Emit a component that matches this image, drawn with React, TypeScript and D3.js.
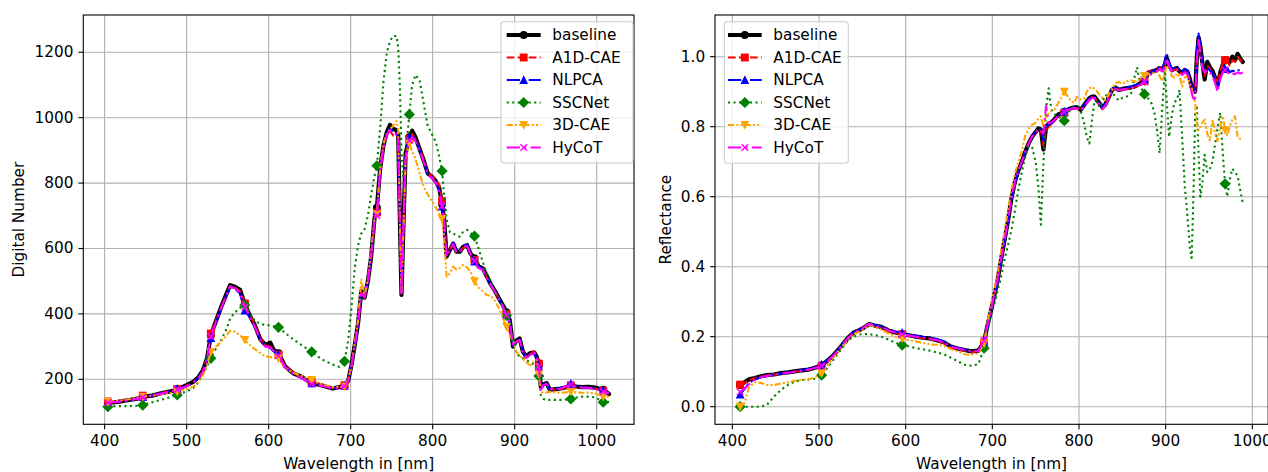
import React from 'react';
import * as d3 from 'd3';

// ---------------- DATA ----------------
// Left panel: Digital Number vs wavelength
const LEFT_NM = [
  404, 416, 428, 440, 446.5, 458, 470, 480, 488.5, 500,
  508, 514, 520, 525, 529.5, 536, 542, 548, 553, 559,
  565, 571, 577, 583, 590, 596, 602, 606, 612, 620,
  630, 640, 652.5, 664, 678, 686, 692.5, 697, 701, 705,
  709, 713, 717, 721, 725, 729, 732, 736, 740, 744,
  748, 752, 756, 758, 760, 762, 764, 767, 771.5, 775,
  779, 784, 789, 794, 799, 804, 808, 811.5, 814, 817,
  821, 825, 829, 833, 837, 842, 846, 851, 856, 861,
  866, 871, 876, 882, 886, 890, 894, 898, 902, 906,
  910, 914, 919, 924, 927, 929.5, 932, 935, 939, 943,
  950, 956, 962, 968.5, 975, 982, 990, 998, 1008, 1015,
];
const LEFT_BASELINE = [
  128, 131, 136, 141, 147, 150, 158, 163, 169, 182,
  192, 205, 228, 265, 335, 380, 420, 458, 488, 483,
  474, 430, 395, 366, 322, 305, 312, 290, 280, 240,
  218, 208, 188, 182, 172, 176, 180, 195, 244, 305,
  370, 470, 450, 500, 575, 690, 725, 845, 915, 955,
  978, 965, 962, 945, 690, 458, 640, 890, 940, 960,
  940, 905, 870, 830, 820, 805, 785, 735, 690, 575,
  595, 615, 590, 590, 605, 610, 585, 570, 545, 540,
  515, 490, 470, 442, 425, 405, 381, 300, 318, 325,
  285, 270, 280, 282, 268, 245, 175, 185, 188, 168,
  170, 172, 175, 182, 178, 176, 177, 175, 168, 155,
];
const LEFT_A1D = [
  132, 133, 138, 143, 150, 151, 159, 164, 170, 181,
  191, 204, 226, 268, 340, 382, 418, 456, 485, 480,
  470, 432, 398, 368, 325, 303, 300, 288, 275, 242,
  220, 206, 192, 184, 174, 176, 182, 196, 242, 302,
  368, 465, 452, 498, 572, 680, 710, 840, 910, 948,
  960, 945, 948, 935, 685, 462, 645, 885, 935, 950,
  935, 905, 872, 835, 822, 810, 795, 745, 695, 580,
  600, 612, 588, 592, 602, 608, 582, 565, 542, 538,
  512, 488, 468, 440, 422, 400, 378, 305, 315, 322,
  288, 268, 278, 285, 272, 248, 172, 183, 185, 170,
  168, 170, 174, 180, 176, 174, 175, 172, 165, 158,
];
const LEFT_NLPCA = [
  130, 132, 137, 142, 146, 151, 158, 164, 171, 180,
  190, 203, 225, 262, 326, 376, 416, 455, 482, 478,
  462, 410, 390, 362, 320, 302, 296, 286, 274, 238,
  216, 205, 188, 181, 174, 175, 180, 196, 244, 303,
  366, 460, 448, 500, 574, 688, 715, 842, 912, 950,
  970, 958, 955, 938, 688, 462, 642, 888, 940, 948,
  932, 902, 868, 828, 818, 802, 778, 728, 688, 578,
  598, 618, 592, 594, 608, 612, 588, 560, 545, 538,
  512, 490, 470, 440, 422, 398, 378, 302, 318, 322,
  284, 266, 276, 280, 266, 240, 170, 185, 186, 168,
  172, 174, 178, 186, 180, 176, 174, 172, 166, 156,
];
const LEFT_SSCNET = [
  116, 118, 118, 119, 121, 130, 138, 146, 152, 163,
  173, 190, 215, 240, 264, 295, 320, 350, 385, 405,
  418, 427, 405, 378, 370, 366, 365, 362, 359, 342,
  322, 305, 284, 262, 245, 238, 255, 320, 420, 540,
  610, 646, 660, 700, 765, 820, 853, 970, 1110, 1197,
  1235, 1250, 1250, 1215, 1095, 900, 820, 880, 1010, 1100,
  1131, 1115, 1044, 975, 950, 925, 880, 837, 760, 690,
  650, 646, 640, 636, 650, 657, 648, 638, 600, 560,
  524, 498, 470, 442, 420, 395, 372, 322, 280, 270,
  265, 259, 252, 244, 230, 210, 150, 140, 137, 137,
  137, 137, 138, 140, 144, 147, 147, 145, 130, 131,
];
const LEFT_3DCAE = [
  131, 134, 138, 143, 147, 150, 155, 158, 162, 170,
  177, 190, 213, 245, 284, 300, 315, 332, 348, 346,
  335, 320, 305, 292, 280, 270, 268, 266, 264, 234,
  220, 210, 198, 185, 176, 176, 178, 200, 240, 310,
  380, 505, 455, 505, 590, 690, 705, 845, 920, 950,
  965, 975, 990, 960, 680, 462, 630, 870, 921, 896,
  875, 830, 790, 765, 745, 725, 705, 690, 630, 514,
  524, 545, 536, 540, 550, 542, 530, 500, 480, 470,
  458, 455, 440, 412, 385, 361, 335, 318, 284, 272,
  264, 252, 243, 255, 259, 215, 165, 157, 160, 162,
  160, 159, 160, 162, 160, 159, 159, 157, 147, 147,
];
const LEFT_HYCOT = [
  128, 131, 135, 140, 145, 150, 157, 163, 168, 179,
  189, 202, 224, 265, 332, 378, 418, 455, 484, 478,
  465, 420, 392, 362, 318, 300, 298, 286, 272, 238,
  216, 204, 186, 180, 172, 174, 178, 194, 242, 302,
  365, 462, 450, 498, 574, 685, 700, 838, 908, 946,
  962, 952, 950, 935, 685, 460, 640, 880, 930, 940,
  928, 900, 866, 825, 815, 800, 775, 730, 685, 575,
  596, 614, 588, 590, 604, 608, 584, 562, 540, 535,
  510, 488, 468, 438, 420, 396, 376, 300, 316, 320,
  282, 265, 275, 280, 265, 238, 168, 182, 186, 170,
  170, 172, 178, 184, 178, 175, 174, 170, 162, 158,
];
const LEFT_MARK_NM = [404, 446.5, 488.5, 529.5, 571, 612, 652.5, 692.5, 732, 771.5, 811.5, 851, 890, 929.5, 968.5, 1008];

// Right panel: Reflectance vs wavelength
const RIGHT_NM = [
  409, 414, 419, 426, 433, 440, 448, 456, 464, 472,
  480, 488, 496, 503, 510, 516, 522, 528, 534, 540,
  546, 552, 558, 564, 572, 580, 588, 596, 604, 612,
  620, 628, 636, 644, 652, 660, 668, 676, 684, 690.5,
  694, 698, 702, 706, 710, 714, 718, 722, 726, 730,
  734, 738, 742, 746, 750, 753, 756, 759, 762, 765,
  768, 772, 776, 783, 786, 790, 794, 798, 802, 806,
  809, 812, 815, 818, 821, 824, 827, 830, 834, 838,
  842, 846, 850, 855, 860, 864, 867, 871, 875.5, 880,
  884, 887, 890, 893, 896, 899, 901, 904, 907, 910,
  913, 916, 919, 922, 925, 928, 930, 932, 934, 936,
  938, 940, 942, 945, 948, 951, 954, 957, 960, 963,
  966, 968.5, 971, 974, 977, 980, 983, 986, 989,
];
const RIGHT_BASELINE = [
  0.062, 0.07, 0.078, 0.082, 0.087, 0.09, 0.092, 0.096, 0.098, 0.101,
  0.104, 0.106, 0.112, 0.118, 0.132, 0.145, 0.162, 0.18, 0.198, 0.212,
  0.218, 0.226, 0.236, 0.232, 0.228, 0.218, 0.212, 0.208, 0.204, 0.2,
  0.197, 0.195, 0.19, 0.184, 0.172, 0.166, 0.162, 0.158, 0.16, 0.185,
  0.228, 0.27, 0.315, 0.36, 0.42, 0.475, 0.53, 0.595, 0.642, 0.675,
  0.7, 0.728, 0.753, 0.772, 0.785, 0.795, 0.792, 0.735, 0.8, 0.808,
  0.812, 0.822, 0.835, 0.842, 0.848, 0.852, 0.855, 0.855, 0.848, 0.862,
  0.872, 0.882, 0.886, 0.886, 0.875, 0.866, 0.855, 0.862, 0.882, 0.905,
  0.912, 0.905, 0.908, 0.91, 0.912, 0.915, 0.918, 0.925, 0.93, 0.955,
  0.958, 0.96, 0.962, 0.968, 0.962, 0.975, 0.998, 0.975, 0.962, 0.965,
  0.968, 0.958, 0.955, 0.962, 0.958, 0.935, 0.912, 0.905, 0.9, 1.0,
  1.055, 1.03, 0.99, 0.935, 0.985, 0.97, 0.96, 0.94, 0.92, 0.955,
  0.978, 0.99, 0.995, 0.985, 1.0, 0.99, 1.008, 0.995, 0.985,
];
const RIGHT_A1D = [
  0.063, 0.068, 0.076, 0.081, 0.086, 0.089, 0.092, 0.095, 0.098, 0.1,
  0.103, 0.106, 0.112, 0.117, 0.13, 0.144, 0.16, 0.178, 0.197, 0.211,
  0.218, 0.225, 0.235, 0.231, 0.226, 0.217, 0.211, 0.207, 0.203, 0.199,
  0.196, 0.194, 0.188, 0.182, 0.17, 0.164, 0.16, 0.156, 0.158, 0.183,
  0.225, 0.268, 0.313, 0.358, 0.418, 0.472, 0.528, 0.592, 0.64, 0.674,
  0.699, 0.727, 0.752, 0.77, 0.783, 0.792, 0.79, 0.745, 0.79, 0.8,
  0.806, 0.818, 0.83, 0.84, 0.846, 0.85, 0.853, 0.853, 0.848, 0.86,
  0.87, 0.88, 0.884, 0.884, 0.872, 0.862, 0.85, 0.86, 0.88, 0.902,
  0.91, 0.905, 0.906, 0.908, 0.91, 0.913, 0.916, 0.922, 0.93, 0.958,
  0.96, 0.962, 0.963, 0.97, 0.96, 0.975, 0.995, 0.972, 0.96, 0.962,
  0.965, 0.955, 0.952, 0.96, 0.955, 0.932, 0.91, 0.902, 0.9, 0.995,
  1.05, 1.02, 0.985, 0.945, 0.975, 0.965, 0.955, 0.94, 0.925, 0.96,
  0.98, 0.99, 0.985, 0.975, 0.99, 0.985, 1.0, 0.992, 0.98,
];
const RIGHT_NLPCA = [
  0.035, 0.05, 0.068, 0.078, 0.084, 0.088, 0.091, 0.095, 0.098, 0.101,
  0.105, 0.108, 0.114, 0.12, 0.133, 0.146, 0.163, 0.18, 0.198, 0.213,
  0.219, 0.227, 0.236, 0.233, 0.23, 0.221, 0.215, 0.211, 0.207, 0.203,
  0.2, 0.198, 0.193, 0.186, 0.174, 0.168, 0.163, 0.158, 0.158, 0.18,
  0.222, 0.265, 0.31, 0.355, 0.415, 0.47, 0.525, 0.59, 0.638, 0.672,
  0.698, 0.726, 0.752, 0.772, 0.785, 0.794, 0.792, 0.76, 0.8, 0.806,
  0.81, 0.82, 0.832, 0.843, 0.848, 0.852, 0.855, 0.856, 0.85, 0.862,
  0.872, 0.88, 0.885, 0.885, 0.874, 0.865, 0.856, 0.862, 0.884, 0.906,
  0.914, 0.908, 0.91, 0.912, 0.915, 0.918, 0.92, 0.928, 0.935, 0.952,
  0.958, 0.962, 0.965, 0.972, 0.968, 0.985, 1.01, 0.985, 0.965, 0.968,
  0.972, 0.962, 0.958, 0.965, 0.96, 0.94, 0.915, 0.905, 0.9, 1.02,
  1.066, 1.03, 0.985, 0.96, 0.97, 0.96, 0.955, 0.935, 0.91, 0.945,
  0.96, 0.965, 0.968, 0.955, 0.96, 0.958, 0.962, 0.96, 0.962,
];
const RIGHT_SSCNET = [
  0.0, 0.0, 0.0, 0.0, 0.0, 0.005, 0.029, 0.048, 0.062, 0.072,
  0.076, 0.078, 0.08, 0.09, 0.112, 0.132, 0.152, 0.172, 0.19, 0.2,
  0.206, 0.208, 0.207, 0.205, 0.2, 0.192, 0.183, 0.176, 0.172, 0.167,
  0.164, 0.16, 0.155, 0.15, 0.14, 0.13, 0.12, 0.117, 0.122, 0.167,
  0.21, 0.26, 0.29, 0.33, 0.37, 0.42, 0.46, 0.505, 0.56, 0.62,
  0.67, 0.715, 0.745, 0.74, 0.7, 0.63, 0.52, 0.7, 0.85, 0.91,
  0.85, 0.835, 0.83, 0.817, 0.835, 0.848, 0.857, 0.855, 0.845, 0.81,
  0.77, 0.752, 0.82, 0.875, 0.87, 0.855, 0.87, 0.89, 0.89, 0.9,
  0.885, 0.875, 0.882, 0.886, 0.895, 0.94, 0.97, 0.915, 0.893, 0.88,
  0.865, 0.84, 0.79, 0.724, 0.85, 0.96, 0.88, 0.771, 0.83, 0.87,
  0.876, 0.905, 0.77, 0.63, 0.55, 0.45, 0.425, 0.6, 0.84, 0.86,
  0.72, 0.6, 0.63, 0.72, 0.67, 0.68, 0.7, 0.75, 0.8, 0.84,
  0.72, 0.637, 0.6, 0.65, 0.68, 0.67, 0.66, 0.62, 0.58,
];
const RIGHT_3DCAE = [
  0.0, 0.01, 0.055, 0.07, 0.068, 0.062, 0.062, 0.066, 0.07, 0.074,
  0.077, 0.078, 0.085, 0.095, 0.118, 0.138, 0.158, 0.176, 0.195, 0.207,
  0.214, 0.222, 0.234, 0.228, 0.22, 0.21, 0.2, 0.195, 0.19, 0.186,
  0.182, 0.178, 0.177, 0.174, 0.165, 0.158, 0.15, 0.148, 0.152, 0.181,
  0.235, 0.285, 0.33, 0.38, 0.44, 0.5, 0.56, 0.62, 0.665, 0.7,
  0.73, 0.775, 0.795, 0.805, 0.812, 0.822, 0.83, 0.8, 0.83, 0.838,
  0.845, 0.85, 0.867, 0.9, 0.89, 0.876, 0.868, 0.886, 0.878, 0.88,
  0.9, 0.91, 0.914, 0.908, 0.9, 0.89, 0.882, 0.876, 0.89, 0.905,
  0.925, 0.928, 0.922, 0.93, 0.932, 0.93, 0.928, 0.94, 0.945, 0.95,
  0.952, 0.955, 0.958, 0.945, 0.93, 0.952, 0.975, 0.97, 0.945, 0.94,
  0.952, 0.945, 0.915, 0.94, 0.945, 0.92, 0.91, 0.885, 0.87, 0.81,
  0.79, 0.8, 0.81, 0.82, 0.78, 0.76, 0.82, 0.78, 0.76, 0.8,
  0.83, 0.79, 0.775, 0.8, 0.82, 0.83, 0.77, 0.765, 0.768,
];
const RIGHT_HYCOT = [
  0.042, 0.052, 0.064, 0.076, 0.084, 0.088, 0.091, 0.094, 0.097, 0.1,
  0.103, 0.106, 0.111, 0.116, 0.13, 0.144, 0.162, 0.18, 0.198, 0.212,
  0.219, 0.227, 0.237, 0.232, 0.227, 0.218, 0.212, 0.206, 0.203, 0.2,
  0.197, 0.194, 0.19, 0.184, 0.172, 0.166, 0.162, 0.158, 0.16, 0.19,
  0.23, 0.272, 0.318, 0.362, 0.42, 0.475, 0.53, 0.595, 0.642, 0.675,
  0.7, 0.728, 0.753, 0.772, 0.784, 0.792, 0.79, 0.78, 0.86, 0.81,
  0.812, 0.82, 0.832, 0.842, 0.846, 0.85, 0.853, 0.852, 0.846, 0.858,
  0.868, 0.876, 0.882, 0.882, 0.872, 0.862, 0.852, 0.858, 0.878, 0.9,
  0.908, 0.904, 0.906, 0.908, 0.91, 0.912, 0.915, 0.92, 0.928, 0.945,
  0.95, 0.955, 0.958, 0.965, 0.958, 0.97, 0.995, 0.972, 0.958, 0.96,
  0.962, 0.952, 0.948, 0.955, 0.95, 0.93, 0.895, 0.88, 0.88, 0.99,
  1.05, 1.01, 0.97, 0.955, 0.962, 0.955, 0.945, 0.925, 0.9, 0.935,
  0.955, 0.962, 0.958, 0.948, 0.952, 0.95, 0.955, 0.952, 0.955,
];
const RIGHT_MARK_NM = [409, 503, 596, 690.5, 783, 875.5, 968.5];

const SERIES_NAMES = ['baseline', 'A1D-CAE', 'NLPCA', 'SSCNet', '3D-CAE', 'HyCoT'];
const X_TICKS = [400, 500, 600, 700, 800, 900, 1000];
const LEFT_Y_TICKS = [200, 400, 600, 800, 1000, 1200];
const RIGHT_Y_TICKS = [0, 0.2, 0.4, 0.6, 0.8, 1.0];

// ---------------- STYLE ----------------
const FONT = '"DejaVu Sans", Verdana, sans-serif';
const FS = 15.3;
type Marker = 'o' | 's' | '^' | 'D' | 'v' | 'x';
const STYLES: { color: string; width: number; dash: string | null; marker: Marker }[] = [
  { color: '#000000', width: 4.2, dash: null, marker: 'o' },
  { color: '#ff0000', width: 2.1, dash: '7.7 3.3', marker: 's' },
  { color: '#0000ff', width: 2.1, dash: '13.3 3.3 2.1 3.3', marker: '^' },
  { color: '#008000', width: 2.1, dash: '2.1 3.4', marker: 'D' },
  { color: '#ffa500', width: 2.1, dash: '6.2 2.1 2.1 2.1 2.1 2.1', marker: 'v' },
  { color: '#ff00ff', width: 2.1, dash: '13.3 4.2 2.1 4.2', marker: 'x' },
];
const MS = 6.5;
const MEW = 1.4;

function MarkerShape({ type, x, y, color }: { type: Marker; x: number; y: number; color: string }) {
  const h = MS / 2;
  const common = { fill: color, stroke: color, strokeWidth: MEW };
  if (type === 'o') return <circle cx={x} cy={y} r={h} {...common} />;
  if (type === 's') return <rect x={x - h} y={y - h} width={MS} height={MS} {...common} />;
  if (type === '^') return <polygon points={`${x},${y - h} ${x - h},${y + h} ${x + h},${y + h}`} {...common} />;
  if (type === 'v') return <polygon points={`${x},${y + h} ${x - h},${y - h} ${x + h},${y - h}`} {...common} />;
  if (type === 'D') {
    const d = MS * 0.7071;
    return <polygon points={`${x},${y - d} ${x + d},${y} ${x},${y + d} ${x - d},${y}`} {...common} />;
  }
  return (
    <g stroke={color} strokeWidth={MEW}>
      <line x1={x - h} y1={y - h} x2={x + h} y2={y + h} />
      <line x1={x - h} y1={y + h} x2={x + h} y2={y - h} />
    </g>
  );
}

type PanelProps = {
  id: string;
  frame: { x0: number; x1: number; y0: number; y1: number };
  xDomain: [number, number];
  yDomain: [number, number];
  nm: number[];
  series: number[][];
  markNm: number[];
  yTicks: number[];
  yFmt: (v: number) => string;
  ylabel: string;
  ylabelX: number;
  legend: { bx0: number; bx1: number; by0: number; by1: number; hx0: number; hx1: number; tx: number; rows: number[] };
};

function Panel(p: PanelProps) {
  const { frame, nm } = p;
  const x = d3.scaleLinear().domain(p.xDomain).range([frame.x0, frame.x1]);
  const y = d3.scaleLinear().domain(p.yDomain).range([frame.y1, frame.y0]);
  const clipId = `clip-${p.id}`;
  const markIdx = p.markNm.map((m) => nm.indexOf(m)).filter((i) => i >= 0);
  const tickLen = 4.9;
  const pad = 4.9;
  return (
    <g>
      <defs>
        <clipPath id={clipId}>
          <rect x={frame.x0} y={frame.y0} width={frame.x1 - frame.x0} height={frame.y1 - frame.y0} />
        </clipPath>
      </defs>
      <rect x={frame.x0} y={frame.y0} width={frame.x1 - frame.x0} height={frame.y1 - frame.y0} fill="#fff" />
      {/* grid */}
      <g stroke="#b0b0b0" strokeWidth={1.1}>
        {X_TICKS.map((t) => (
          <line key={`gx${t}`} x1={x(t)} x2={x(t)} y1={frame.y0} y2={frame.y1} />
        ))}
        {p.yTicks.map((t) => (
          <line key={`gy${t}`} x1={frame.x0} x2={frame.x1} y1={y(t)} y2={y(t)} />
        ))}
      </g>
      {/* series */}
      <g clipPath={`url(#${clipId})`}>
        {p.series.map((vals, si) => {
          const st = STYLES[si];
          const n = Math.min(vals.length, nm.length);
          const pts: [number, number][] = [];
          for (let i = 0; i < n; i++) pts.push([nm[i], vals[i]]);
          const line = d3
            .line<[number, number]>()
            .x((d) => x(d[0]))
            .y((d) => y(d[1]));
          return (
            <g key={si}>
              <path
                d={line(pts) || ''}
                fill="none"
                stroke={st.color}
                strokeWidth={st.width}
                strokeDasharray={st.dash || undefined}
                strokeLinejoin="round"
                strokeLinecap={st.dash ? 'butt' : 'round'}
              />
              {markIdx
                .filter((i) => i < n)
                .map((i) => (
                  <MarkerShape key={i} type={st.marker} x={x(nm[i])} y={y(vals[i])} color={st.color} />
                ))}
            </g>
          );
        })}
      </g>
      {/* frame */}
      <rect
        x={frame.x0}
        y={frame.y0}
        width={frame.x1 - frame.x0}
        height={frame.y1 - frame.y0}
        fill="none"
        stroke="#000"
        strokeWidth={1.1}
      />
      {/* x ticks */}
      <g fontFamily={FONT} fontSize={FS} fill="#000">
        {X_TICKS.map((t) => (
          <g key={`tx${t}`}>
            <line x1={x(t)} x2={x(t)} y1={frame.y1} y2={frame.y1 + tickLen} stroke="#000" strokeWidth={1.1} />
            <text x={x(t)} y={frame.y1 + tickLen + pad + 0.76 * FS} textAnchor="middle">
              {t}
            </text>
          </g>
        ))}
        {p.yTicks.map((t) => (
          <g key={`ty${t}`}>
            <line x1={frame.x0 - tickLen} x2={frame.x0} y1={y(t)} y2={y(t)} stroke="#000" strokeWidth={1.1} />
            <text x={frame.x0 - tickLen - pad} y={y(t)} textAnchor="end" dominantBaseline="central">
              {p.yFmt(t)}
            </text>
          </g>
        ))}
        <text x={(frame.x0 + frame.x1) / 2} y={469} textAnchor="middle">
          Wavelength in [nm]
        </text>
        <text
          transform={`translate(${p.ylabelX},${(frame.y0 + frame.y1) / 2}) rotate(-90)`}
          textAnchor="middle"
          dominantBaseline="central"
        >
          {p.ylabel}
        </text>
      </g>
      {/* legend */}
      <g>
        <rect
          x={p.legend.bx0}
          y={p.legend.by0}
          width={p.legend.bx1 - p.legend.bx0}
          height={p.legend.by1 - p.legend.by0}
          rx={3}
          fill="#fff"
          fillOpacity={0.8}
          stroke="#cccccc"
          strokeWidth={1.1}
        />
        {SERIES_NAMES.map((name, si) => {
          const st = STYLES[si];
          const ry = p.legend.rows[si];
          const cx = (p.legend.hx0 + p.legend.hx1) / 2;
          return (
            <g key={name}>
              <line
                x1={p.legend.hx0}
                x2={p.legend.hx1}
                y1={ry}
                y2={ry}
                stroke={st.color}
                strokeWidth={st.width}
                strokeDasharray={st.dash || undefined}
              />
              <MarkerShape type={st.marker} x={cx} y={ry} color={st.color} />
              <text x={p.legend.tx} y={ry} fontFamily={FONT} fontSize={FS} dominantBaseline="central" fill="#000">
                {name}
              </text>
            </g>
          );
        })}
      </g>
    </g>
  );
}

export default function App() {
  const rows = [35, 57.5, 80, 102.5, 125, 147.5];
  return (
    <svg
      width={1268}
      height={472}
      style={{ position: 'absolute', left: 0, top: 0, background: '#fff' }}
      xmlns="http://www.w3.org/2000/svg"
    >
      <rect x={0} y={0} width={1268} height={472} fill="#fff" />
      <Panel
        id="left"
        frame={{ x0: 83.3, x1: 634, y0: 15, y1: 424.3 }}
        xDomain={[374, 1045.5]}
        yDomain={[62.4, 1314]}
        nm={LEFT_NM}
        series={[LEFT_BASELINE, LEFT_A1D, LEFT_NLPCA, LEFT_SSCNET, LEFT_3DCAE, LEFT_HYCOT]}
        markNm={LEFT_MARK_NM}
        yTicks={LEFT_Y_TICKS}
        yFmt={(v) => String(v)}
        ylabel="Digital Number"
        ylabelX={19}
        legend={{ bx0: 501, bx1: 633, by0: 21.7, by1: 163, hx0: 506.7, hx1: 540.7, tx: 552.3, rows }}
      />
      <Panel
        id="right"
        frame={{ x0: 715, x1: 1268.2, y0: 15, y1: 424.3 }}
        xDomain={[380, 1018.3]}
        yDomain={[-0.0503, 1.1191]}
        nm={RIGHT_NM}
        series={[RIGHT_BASELINE, RIGHT_A1D, RIGHT_NLPCA, RIGHT_SSCNET, RIGHT_3DCAE, RIGHT_HYCOT]}
        markNm={RIGHT_MARK_NM}
        yTicks={RIGHT_Y_TICKS}
        yFmt={(v) => d3.format('.1f')(v)}
        ylabel="Reflectance"
        ylabelX={666}
        legend={{ bx0: 724.3, bx1: 848.3, by0: 21.7, by1: 163.3, hx0: 728, hx1: 761.7, tx: 773.3, rows }}
      />
    </svg>
  );
}
